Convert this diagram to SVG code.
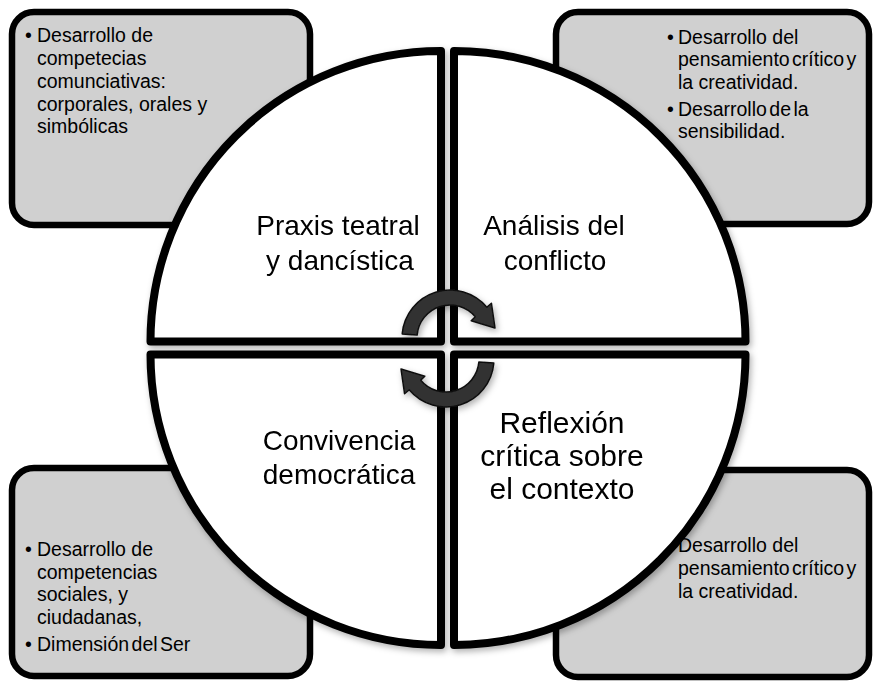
<svg xmlns="http://www.w3.org/2000/svg" xmlns:xlink="http://www.w3.org/1999/xlink" width="874" height="681" viewBox="0 0 874 681">
<style>
  .box { fill: #d0d0d0; stroke: #000; stroke-width: 6.5; }
  .quad { fill: #fff; stroke: #000; stroke-width: 8; stroke-linejoin: round; }
  .bt { font-family: "Liberation Sans", Arial, sans-serif; font-size: 19.5px; fill: #000; }
  .qt { font-family: "Liberation Sans", Arial, sans-serif; font-size: 28px; fill: #000; text-anchor: middle; }
  .tight { word-spacing: -3px; }
  .arrow { fill: #333; stroke: #111; stroke-width: 1.5; stroke-linejoin: round; }
</style>
<defs>
  <filter id="sh" x="-10%" y="-10%" width="130%" height="130%">
    <feDropShadow dx="2" dy="3" stdDeviation="3" flood-color="#000" flood-opacity="0.3"/>
  </filter>
  <path id="arr" d="M 402.2,333.9 A 48 48 0 0 1 486.8,307.2 L 491.4,303.2 L 495,328 L 471.2,320.8 L 475.3,316.8 A 33 33 0 0 0 417.1,335.1 Z"/>
</defs>
<rect width="874" height="681" fill="#fff"/>

<g id="box-tl">
  <rect class="box" x="12" y="12" width="298" height="213" rx="22"/>
  <text class="bt"><tspan x="25" y="42">•</tspan><tspan x="37" y="42">Desarrollo de</tspan><tspan x="37" y="65">competecias</tspan><tspan x="37" y="88">comunciativas:</tspan><tspan x="37" y="111">corporales, orales y</tspan><tspan x="37" y="133">simbólicas</tspan></text>
</g>
<g id="box-tr">
  <rect class="box" x="556" y="12" width="313" height="212" rx="22"/>
  <text class="bt"><tspan x="667" y="44">•</tspan><tspan x="678" y="44">Desarrollo del</tspan><tspan class="tight" x="678" y="66">pensamiento crítico y</tspan><tspan x="678" y="89">la creatividad.</tspan><tspan x="667" y="116">•</tspan><tspan class="tight" x="678" y="116">Desarrollo de la</tspan><tspan x="678" y="138">sensibilidad.</tspan></text>
</g>
<g id="box-bl">
  <rect class="box" x="12" y="468" width="298" height="208" rx="22"/>
  <text class="bt"><tspan x="25" y="556">•</tspan><tspan x="37" y="556">Desarrollo de</tspan><tspan x="37" y="579">competencias</tspan><tspan x="37" y="601">sociales, y</tspan><tspan x="37" y="624">ciudadanas,</tspan><tspan x="25" y="651">•</tspan><tspan class="tight" x="37" y="651">Dimensión del Ser</tspan></text>
</g>
<g id="box-br">
  <rect class="box" x="556" y="470" width="313" height="207" rx="22"/>
  <text class="bt"><tspan x="667" y="552">•</tspan><tspan x="678" y="552">Desarrollo del</tspan><tspan class="tight" x="678" y="575">pensamiento crítico y</tspan><tspan x="678" y="598">la creatividad.</tspan></text>
</g>

<g id="quad-tl" filter="url(#sh)">
  <path class="quad" d="M 441,341.5 L 441,51 A 290.5 290.5 0 0 0 150.5,341.5 Z"/>
  <text class="qt"><tspan x="338" y="235">Praxis teatral</tspan><tspan x="340" y="270">y dancística</tspan></text>
</g>
<g id="quad-tr" filter="url(#sh)">
  <path class="quad" d="M 454,341.5 L 454,51 A 291.5 290.5 0 0 1 745.5,341.5 Z"/>
  <text class="qt"><tspan x="554" y="235">Análisis del</tspan><tspan x="555" y="270">conflicto</tspan></text>
</g>
<g id="quad-bl" filter="url(#sh)">
  <path class="quad" d="M 441,354.5 L 150.5,354.5 A 290.5 290.5 0 0 0 441,645 Z"/>
  <text class="qt"><tspan x="339" y="450">Convivencia</tspan><tspan x="339" y="484">democrática</tspan></text>
</g>
<g id="quad-br" filter="url(#sh)">
  <path class="quad" d="M 454,354.5 L 454,645 A 291.5 290.5 0 0 0 745.5,354.5 Z"/>
  <text class="qt" style="font-size:30px"><tspan x="562" y="433">Reflexión</tspan><tspan x="562" y="466">crítica sobre</tspan><tspan x="562" y="499">el contexto</tspan></text>
</g>

<g id="connectors" filter="url(#sh)">
  <use xlink:href="#arr" class="arrow"/>
  <use xlink:href="#arr" class="arrow" transform="rotate(180 448 348.5)"/>
</g>
</svg>
